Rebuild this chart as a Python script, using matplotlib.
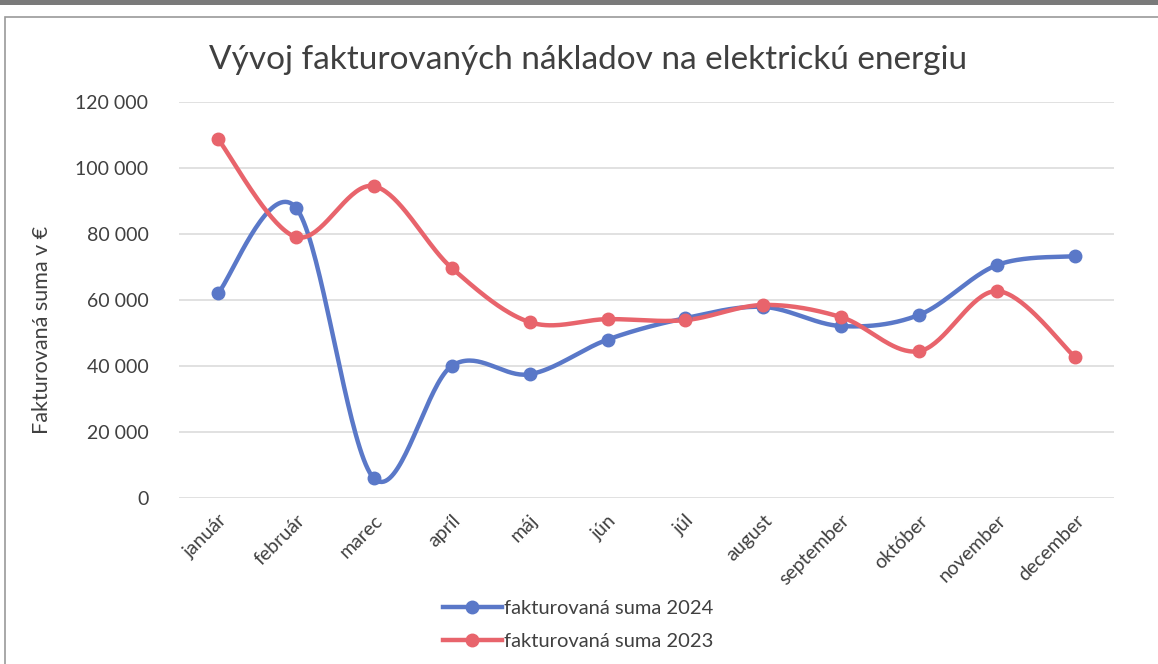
import numpy as np
import matplotlib
matplotlib.use("Agg")
import matplotlib.pyplot as plt
from matplotlib.ticker import FuncFormatter
from matplotlib.lines import Line2D
from matplotlib.patches import Rectangle

months = ["január", "február", "marec", "apríl", "máj", "jún", "júl",
          "august", "september", "október", "november", "december"]
sum_2024 = [62000, 88000, 6000, 40000, 37500, 48000, 54500, 57900, 52100, 55500, 70600, 73300]
sum_2023 = [108800, 79100, 94500, 69700, 53300, 54200, 53900, 58500, 54800, 44500, 62700, 42700]
series_labels = ["fakturovaná suma 2024", "fakturovaná suma 2023"]
title = "Vývoj fakturovaných nákladov na elektrickú energiu"
ylabel = "Fakturovaná suma v €"

plt.rcParams['font.family'] = ['Lato', 'DejaVu Sans']

def smooth(xs, ys, n=40):
    xs = np.asarray(xs, float); ys = np.asarray(ys, float)
    px = np.concatenate([[xs[0]], xs, [xs[-1]]])
    py = np.concatenate([[ys[0]], ys, [ys[-1]]])
    ox, oy = [], []
    t = np.linspace(0, 1, n)
    for i in range(1, len(px) - 2):
        p0 = np.array([px[i], py[i]]); p3 = np.array([px[i+1], py[i+1]])
        c1 = p0 + (np.array([px[i+1], py[i+1]]) - np.array([px[i-1], py[i-1]])) / 6
        c2 = p3 - (np.array([px[i+2], py[i+2]]) - np.array([px[i], py[i]])) / 6
        b = ((1-t)**3)[:, None]*p0 + (3*(1-t)**2*t)[:, None]*c1 + (3*(1-t)*t**2)[:, None]*c2 + (t**3)[:, None]*p3
        ox.extend(b[:, 0]); oy.extend(b[:, 1])
    return np.array(ox), np.array(oy)

W, H = 1158, 664
fig = plt.figure(figsize=(W/100, H/100), dpi=100)
fig.patch.set_facecolor("white")

# scan frame
fig.add_artist(Rectangle((0, 1 - 5/H), 1, 5/H, transform=fig.transFigure,
                         facecolor="#7a7a7a", edgecolor="none"))
fig.add_artist(Rectangle((5/W, -0.01), 1.2, 1 - 17/H + 0.01, transform=fig.transFigure,
                         facecolor="none", edgecolor="#9a9a9a", linewidth=1.2))

ax = fig.add_axes([179/W, 1 - 498/H, (1114-179)/W, (498-102)/H])
x = np.arange(len(months))
colors = ["#5a78c8", "#e8646c"]
for vals, c, lab in zip([sum_2024, sum_2023], colors, series_labels):
    sx, sy = smooth(x, vals)
    ax.plot(sx, sy, color=c, linewidth=3.2, solid_capstyle="round", zorder=3)
    ax.plot(x, vals, linestyle="none", marker="o", markersize=9, color=c, zorder=4)

ax.set_xlim(-0.5, len(months) - 0.5)
ax.set_ylim(0, 120000)
ax.set_yticks(np.arange(0, 120001, 20000))
ax.yaxis.set_major_formatter(FuncFormatter(lambda v, p: f"{int(v):,}".replace(",", " ")))
ax.set_xticks(x)
ax.set_xticklabels(months, rotation=45, ha="right", rotation_mode="anchor")
ax.tick_params(axis="both", length=0, labelsize=14, colors="#404040")
ax.tick_params(axis="y", pad=22)
ax.tick_params(axis="x", pad=10)
for s in ax.spines.values():
    s.set_visible(False)
ax.grid(axis="y", color="#dcdcdc", linewidth=1.2)
ax.set_axisbelow(True)

fig.text(588/W, 1 - 60/H, title, ha="center", va="center", fontsize=24, color="#404040")
fig.text(42/W, 1 - 330/H, ylabel, ha="center", va="center", rotation=90, fontsize=15.5, color="#404040")

handles = [Line2D([], [], color=c, linewidth=3.2, marker="o", markersize=9) for c in colors]
fig.legend(handles, series_labels, loc="center", bbox_to_anchor=(578/W, 1 - 625/H),
           ncol=1, frameon=False, fontsize=14.5, handlelength=2.9, handletextpad=0.1,
           labelspacing=0.8, labelcolor="#404040")

fig.savefig("out.png", dpi=100)
